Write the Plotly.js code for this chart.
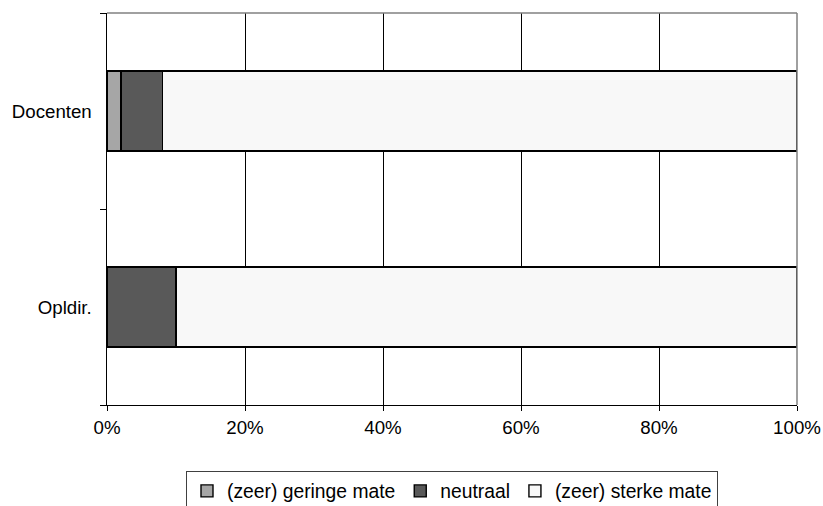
<!DOCTYPE html>
<html>
<head>
<meta charset="utf-8">
<script src="https://cdn.plot.ly/plotly-3.0.1.min.js"></script>
<style>html,body{margin:0;padding:0;background:#fff;}#chart{width:823px;height:506px;}</style>
</head>
<body>
<div id="chart"></div>
<script>
var categories = ["Opldir.", "Docenten"];
var seriesNames = ["(zeer) geringe mate", "neutraal", "(zeer) sterke mate"];
var geringe = [0, 2];
var neutraal = [10, 6];
var sterke = [90, 92];
var xTickVals = [0, 20, 40, 60, 80, 100];
var xTickText = ["0%", "20%", "40%", "60%", "80%", "100%"];
var colors = ["#a6a6a6", "#595959", "#f8f8f8"];
var values = [geringe, neutraal, sterke];

var traces = values.map(function (v, i) {
  return {
    type: "bar",
    orientation: "h",
    name: seriesNames[i],
    y: categories,
    x: v,
    marker: { color: colors[i], line: { color: "#000000", width: 1.4 } },
    hoverinfo: "x+name"
  };
});
// invisible trace for the boundary tick marks on the y axis
traces.push({
  type: "scatter", mode: "markers", x: [null], y: [null],
  yaxis: "y2", showlegend: false, hoverinfo: "skip"
});

var font = { family: "Liberation Sans, Arial, sans-serif", size: 18.7, color: "#000" };

var layout = {
  width: 823, height: 506,
  margin: { l: 107, r: 26, t: 13, b: 101, autoexpand: false },
  barmode: "stack",
  bargap: 0.59,
  paper_bgcolor: "#ffffff",
  plot_bgcolor: "#ffffff",
  font: font,
  xaxis: {
    range: [0, 100],
    tickvals: xTickVals,
    ticktext: xTickText,
    showgrid: true,
    gridcolor: "#000000",
    gridwidth: 1,
    zeroline: false,
    showline: true,
    linecolor: "#000000",
    linewidth: 1.4,
    ticks: "outside",
    ticklen: 5,
    tickcolor: "#000000",
    tickfont: font,
    mirror: false,
    fixedrange: true
  },
  yaxis: {
    type: "category",
    categoryorder: "array",
    categoryarray: categories,
    range: [-0.5, 1.5],
    showgrid: false,
    zeroline: false,
    showline: true,
    linecolor: "#000000",
    linewidth: 1.5,
    ticks: "",
    ticklabelstandoff: 10,
    tickfont: font,
    fixedrange: true
  },
  yaxis2: {
    overlaying: "y",
    range: [-0.5, 1.5],
    tickvals: [-0.5, 0.5, 1.5],
    showticklabels: false,
    ticks: "outside",
    ticklen: 6,
    tickcolor: "#000000",
    showgrid: false,
    zeroline: false,
    showline: false,
    side: "left",
    fixedrange: true
  },
  shapes: [
    { type: "line", xref: "paper", yref: "paper", x0: 0, x1: 1, y0: 1, y1: 1, line: { color: "#808080", width: 1.5 } },
    { type: "line", xref: "paper", yref: "paper", x0: 1, x1: 1, y0: 0, y1: 1, line: { color: "#808080", width: 1.5 } }
  ],
  showlegend: true,
  legend: {
    orientation: "h",
    x: 0.5, xanchor: "center",
    y: -0.168, yanchor: "top",
    bordercolor: "#404040",
    borderwidth: 1,
    itemwidth: 30,
    font: { family: "Liberation Sans, Arial, sans-serif", size: 19.3, color: "#000" },
    traceorder: "normal",
    itemclick: false, itemdoubleclick: false
  }
};

Plotly.newPlot("chart", traces, layout, { staticPlot: true, displayModeBar: false });
</script>
</body>
</html>
